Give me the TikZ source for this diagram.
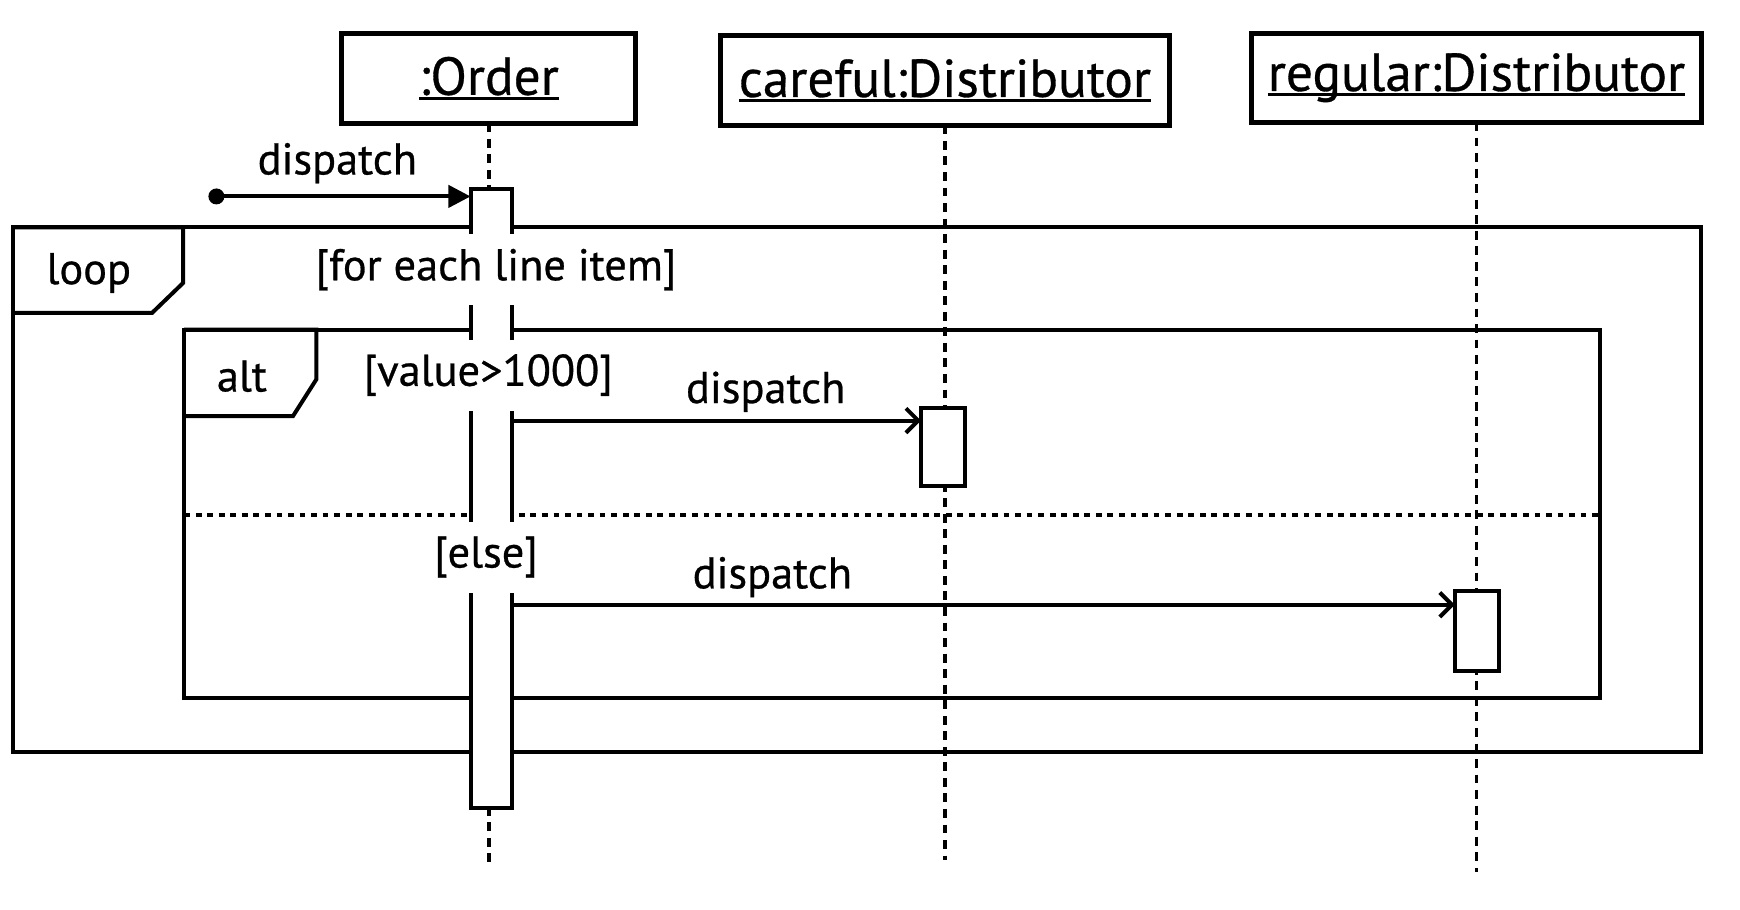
\documentclass[tikz,border=0pt]{standalone}
\usepackage{fontspec}
\setmainfont{PT Sans}[FakeBold=0.6]
\usetikzlibrary{arrows.meta}
\newcommand\objname[1]{\setbox0\hbox{#1}\rlap{\rule[-2.2pt]{\wd0}{1.1pt}}\box0}
\begin{document}
\begin{tikzpicture}[x=0.5pt,y=-0.5pt,
  objbox/.style={draw,line width=2.3pt,fill=white,inner sep=0pt,outer sep=0pt,font=\fontsize{24}{28}\selectfont},
  lifeline/.style={line width=1.6pt,dash pattern=on 4pt off 3pt},
  actbar/.style={draw,line width=1.8pt,fill=white,minimum width=18.5pt,inner sep=0pt,outer sep=0pt},
  frameline/.style={line width=1.8pt,line join=miter},
  framebox/.style={draw,line width=1.8pt,inner sep=0pt,outer sep=0pt},
  guard/.style={fill=white,inner xsep=1pt,inner ysep=0pt,minimum height=32pt,font=\fontsize{20}{24}\selectfont},
  lbl/.style={inner sep=0pt,font=\fontsize{20}{24}\selectfont},
  msg/.style={line width=1.8pt,-{Straight Barb[length=5.5pt,width=11pt,line width=1.8pt]}},
  found/.style={line width=1.8pt,-{Triangle[length=10pt,width=10pt]}},
  sepline/.style={line width=1.8pt,dash pattern=on 2.6pt off 2.6pt}
]
\useasboundingbox (0,0) rectangle (1568,820);
% frames
\node[framebox,minimum width=760.5pt,minimum height=236.5pt] (loopframe) at (772.5,441.5) {};
\node[framebox,minimum width=638pt,minimum height=166pt] (altframe) at (804,463) {};
\coordinate (looptabend) at (0,282);
\coordinate (alttabend) at (0,375);
\draw[frameline] (loopframe.north west) -- ++(153,0) -- ++(0,50) -- ++(-28,27) -- (loopframe.north west |- looptabend);
\draw[frameline] (altframe.north west) -- ++(119,0) -- ++(0,45) -- ++(-21,33) -- (altframe.north west |- alttabend);
\coordinate (sep) at (0,464);
\draw[sepline] (altframe.west |- sep) -- (altframe.east |- sep);
% objects
\node[objbox,minimum width=132.5pt,minimum height=40.5pt] (order) at (440.5,70.5) {\objname{:Order}};
\node[objbox,minimum width=202.5pt,minimum height=40.5pt] (careful) at (851.5,72.5) {\objname{careful:Distributor}};
\node[objbox,minimum width=202.5pt,minimum height=40pt] (regular) at (1330.5,70) {\objname{regular:Distributor}};
% lifelines
\coordinate (orderend) at (443,782);
\coordinate (carefulend) at (849,775);
\coordinate (regularend) at (1333,786);
\draw[lifeline] (order.south) -- (order.south |- orderend);
\draw[lifeline] (careful.south) -- (careful.south |- carefulend);
\draw[lifeline] (regular.south) -- (regular.south |- regularend);
% activation bars
\node[actbar,minimum height=279pt] (orderbar) at (442.5,449) {};
\node[actbar,minimum width=20pt,minimum height=35pt] (carefulbar) at (850,403) {};
\node[actbar,minimum width=20pt,minimum height=36pt] (regularbar) at (1331,569) {};
% found message
\coordinate (foundstart) at (195,177);
\fill (foundstart) circle[radius=3.6pt];
\draw[found] (foundstart) -- (foundstart -| orderbar.west);
\node[lbl] (lbl0) at (304,147) {dispatch};
% messages
\coordinate (m1) at (0,379);
\coordinate (m2) at (0,545);
\draw[msg] (orderbar.east |- m1) -- (carefulbar.west |- m1);
\draw[msg] (orderbar.east |- m2) -- (regularbar.west |- m2);
\node[lbl] (lbl1) at (690,353) {dispatch};
\node[lbl] (lbl2) at (696,520) {dispatch};
% guards and tabs
\node[guard] (g1) at (447,243) {[for each line item]};
\node[guard] (g2) at (440,338) {[value>1000]};
\node[guard] (g3) at (438,502) {[else]};
\node[lbl] (looplbl) at (80,246) {loop};
\node[lbl] (altlbl) at (218,339) {alt};
\end{tikzpicture}
\end{document}
